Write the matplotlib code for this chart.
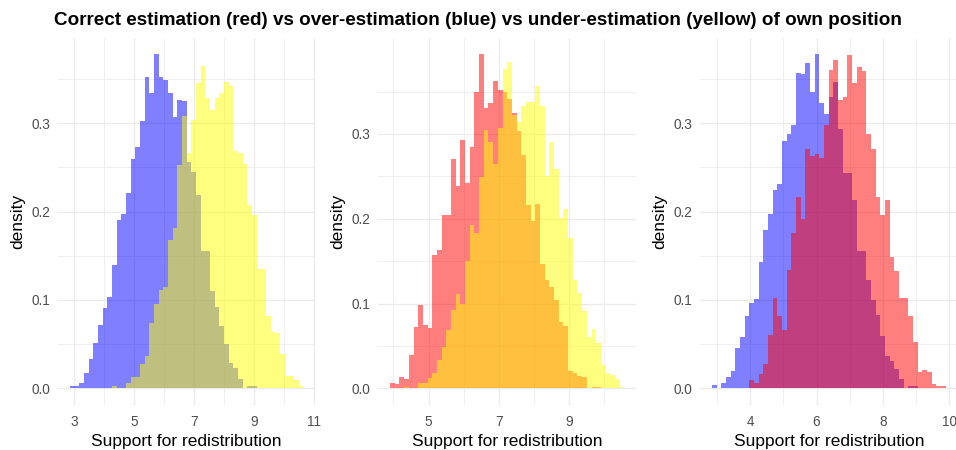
import matplotlib
matplotlib.use("Agg")
import matplotlib.pyplot as plt
import numpy as np
from matplotlib.ticker import FormatStrFormatter

plt.rcParams['font.family'] = ['Liberation Sans', 'DejaVu Sans']

# histogram densities, one value per bin
# panel 1: over-estimation (blue) vs under-estimation (yellow)
p1_width = 0.1556
p1_blue_start = 2.857
p1_blue = [0.003, 0.003, 0.006, 0.017, 0.033, 0.051, 0.072, 0.091, 0.103, 0.139,
           0.190, 0.197, 0.221, 0.259, 0.273, 0.302, 0.352, 0.334, 0.378, 0.352,
           0.349, 0.334, 0.307, 0.326, 0.325, 0.256, 0.245, 0.219, 0.155, 0.155,
           0.110, 0.092, 0.071, 0.050, 0.029, 0.023, 0.011, 0.0, 0.003, 0.003]
p1_yellow_start = 4.257
p1_yellow = [0.003, 0.0, 0.0, 0.006, 0.013, 0.013, 0.028, 0.037, 0.074, 0.095,
             0.111, 0.115, 0.168, 0.181, 0.253, 0.308, 0.266, 0.304, 0.345, 0.365,
             0.328, 0.315, 0.328, 0.334, 0.347, 0.342, 0.268, 0.266, 0.254, 0.207,
             0.196, 0.135, 0.135, 0.082, 0.064, 0.062, 0.039, 0.014, 0.014, 0.009, 0.003]

# panel 2: correct (red) vs under-estimation (yellow)
p2_width = 0.1335
p2_red_start = 3.905
p2_red = [0.006, 0.005, 0.013, 0.011, 0.039, 0.072, 0.098, 0.075, 0.071, 0.157,
          0.163, 0.204, 0.204, 0.270, 0.238, 0.293, 0.242, 0.284, 0.350, 0.394,
          0.330, 0.337, 0.362, 0.352, 0.350, 0.341, 0.325, 0.304, 0.275, 0.216,
          0.197, 0.217, 0.146, 0.128, 0.119, 0.104, 0.078, 0.073, 0.020, 0.018,
          0.015, 0.013, 0.0, 0.002, 0.002]
p2_yellow_start = 4.3055
p2_yellow = [0.002, 0.0, 0.0, 0.006, 0.006, 0.012, 0.018, 0.033, 0.049, 0.069,
             0.092, 0.111, 0.100, 0.150, 0.193, 0.183, 0.249, 0.305, 0.291, 0.264,
             0.307, 0.376, 0.385, 0.322, 0.314, 0.333, 0.338, 0.338, 0.356, 0.333,
             0.250, 0.291, 0.259, 0.201, 0.212, 0.177, 0.128, 0.112, 0.091, 0.061,
             0.070, 0.053, 0.028, 0.018, 0.016, 0.011, 0.002]

# panel 3: over-estimation (blue) vs correct (red)
p3_width = 0.1408
p3_blue_start = 2.85
p3_blue = [0.004, 0.0, 0.006, 0.013, 0.020, 0.046, 0.058, 0.082, 0.096, 0.101,
           0.143, 0.179, 0.197, 0.224, 0.231, 0.280, 0.288, 0.298, 0.357, 0.356,
           0.368, 0.335, 0.378, 0.323, 0.310, 0.330, 0.347, 0.293, 0.244, 0.244,
           0.213, 0.155, 0.155, 0.122, 0.100, 0.083, 0.059, 0.036, 0.031, 0.022,
           0.010, 0.0, 0.003, 0.003]
p3_red_start = 3.976
p3_red = [0.009, 0.006, 0.016, 0.027, 0.060, 0.102, 0.082, 0.066, 0.134, 0.176,
          0.216, 0.191, 0.271, 0.263, 0.265, 0.260, 0.298, 0.360, 0.371, 0.326,
          0.330, 0.377, 0.345, 0.364, 0.359, 0.288, 0.271, 0.216, 0.196, 0.213,
          0.149, 0.133, 0.102, 0.102, 0.082, 0.052, 0.018, 0.021, 0.018, 0.005,
          0.003, 0.003]

panels = [
    ([(p1_blue_start, p1_width, p1_blue, 'blue'),
      (p1_yellow_start, p1_width, p1_yellow, 'yellow')],
     [3, 5, 7, 9, 11], [4, 6, 8, 10]),
    ([(p2_red_start, p2_width, p2_red, 'red'),
      (p2_yellow_start, p2_width, p2_yellow, 'yellow')],
     [5, 7, 9], [4, 6, 8, 10]),
    ([(p3_blue_start, p3_width, p3_blue, 'blue'),
      (p3_red_start, p3_width, p3_red, 'red')],
     [4, 6, 8, 10], [3, 5, 7, 9]),
]

# panel extents in pixels (left, right) on a 956x450 canvas
W, H = 956, 450
extents = [(58.4, 315.0), (378.4, 636.0), (700.3, 957.3)]
bottom_px, top_px = 405.0, 37.5

fig = plt.figure(figsize=(W / 100, H / 100), dpi=100)
grid_col = '#EBEBEB'

for (layers, xmaj, xmin_), (l, r) in zip(panels, extents):
    ax = fig.add_axes([l / W, 1 - bottom_px / H, (r - l) / W, (bottom_px - top_px) / H])
    lo, hi, ymax = np.inf, -np.inf, 0
    for start, width, heights, colour in layers:
        edges = start + width * np.arange(len(heights) + 1)
        ax.stairs(heights, edges, fill=True, color=colour, alpha=0.5, linewidth=0)
        lo, hi, ymax = min(lo, edges[0]), max(hi, edges[-1]), max(ymax, max(heights))
    pad = 0.05 * (hi - lo)
    ax.set_xlim(lo - pad, hi + pad)
    ax.set_ylim(-0.05 * ymax, 1.05 * ymax)

    ax.set_xticks(xmaj)
    ax.set_xticks(xmin_, minor=True)
    yt = np.arange(0, ymax + 1e-9, 0.1)
    ym = np.arange(0.05, 1.05 * ymax, 0.1)
    ax.set_yticks(yt)
    ax.set_yticks(ym, minor=True)
    ax.yaxis.set_major_formatter(FormatStrFormatter('%.1f'))

    ax.grid(which='major', color=grid_col, linewidth=1.0)
    ax.grid(which='minor', color=grid_col, linewidth=0.55)
    ax.set_axisbelow(True)
    for s in ax.spines.values():
        s.set_visible(False)
    ax.tick_params(which='both', length=0, labelsize=9.8, labelcolor='#4D4D4D')
    ax.tick_params(axis='x', pad=7)
    ax.tick_params(axis='y', pad=6)

    ax.set_xlabel('Support for redistribution', fontsize=12.5, labelpad=4)
    ax.set_ylabel('density', fontsize=12.5, labelpad=4)

fig.text(0.5, 1 - 25 / H, 'Correct estimation (red) vs over-estimation (blue) vs '
         'under-estimation (yellow) of own position',
         ha='center', va='baseline', fontsize=13.6, fontweight='bold')

fig.savefig('out.png', dpi=100)
